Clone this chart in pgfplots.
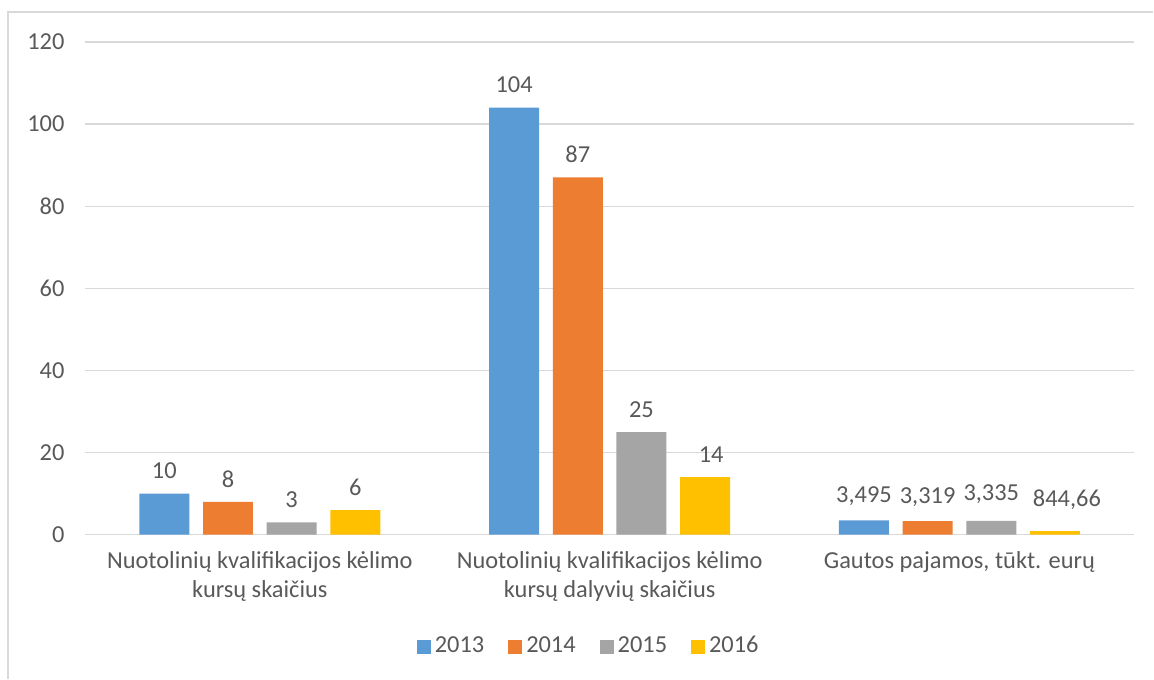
\documentclass[border=0pt]{standalone}
\usepackage{pgfplots}
\pgfplotsset{compat=1.18}
\usepackage{fontspec}
\setmainfont{Carlito}
\definecolor{c13}{HTML}{5B9BD5}
\definecolor{c14}{HTML}{ED7D31}
\definecolor{c15}{HTML}{A5A5A5}
\definecolor{c16}{HTML}{FFC000}
\definecolor{txt}{HTML}{595959}
\definecolor{grd}{HTML}{D9D9D9}
\newcommand{\lbl}{\fontsize{12.2pt}{14.5pt}\selectfont}
\begin{document}
\lbl
\begin{tikzpicture}
\begin{axis}[
    at={(0,0)}, anchor=south west,
    scale only axis,
    width=525pt, height=246.5pt,
    ybar=6.85pt,
    bar width=25pt,
    xmin=-0.5, xmax=2.5,
    ymin=0, ymax=120,
    ytick={0,20,...,120},
    xtick=data,
    xticklabels={{Nuotolinių kvalifikacijos kėlimo\\kursų skaičius},
                 {Nuotolinių kvalifikacijos kėlimo\\kursų dalyvių skaičius},
                 {Gautos pajamos, tūkt. eurų}},
    xticklabel style={align=center, text=txt, font=\lbl, yshift=-4pt},
    yticklabel style={text=txt, font=\lbl, xshift=-6pt},
    /pgf/number format/assume math mode=true,
    major tick length=0pt,
    ymajorgrids,
    grid style={grd, line width=0.6pt},
    axis x line*=bottom,
    axis y line*=left,
    y axis line style={draw=none},
    x axis line style={grd, line width=0.6pt, -},
    point meta=explicit symbolic,
    nodes near coords={\pgfplotspointmeta},
    nodes near coords style={text=txt, font=\lbl, yshift=3pt},
    legend style={at={(0.481,-0.227)}, anchor=center, draw=none,
        legend columns=4, font=\lbl, text=txt,
        /tikz/every even column/.append style={column sep=10pt}},
    legend image code/.code={\fill[#1] (0pt,-3.5pt) rectangle (7pt,3.5pt);},
]
\addplot[fill=c13, draw=none] coordinates {(0,10) [10] (1,104) [104] (2,3.495) [{3,495}]};
\addlegendentry{2013}
\addplot[fill=c14, draw=none] coordinates {(0,8) [8] (1,87) [87] (2,3.319) [{3,319}]};
\addlegendentry{2014}
\addplot[fill=c15, draw=none] coordinates {(0,3) [3] (1,25) [25] (2,3.335) [{\raisebox{3pt}{3,335}}]};
\addlegendentry{2015}
\addplot[fill=c16, draw=none] coordinates {(0,6) [6] (1,14) [{\hspace*{6pt}14}] (2,0.84466) [{\hspace*{12pt}\raisebox{5pt}{844,66}}]};
\addlegendentry{2016}
\end{axis}
\draw[grd, line width=0.7pt] (-38.5pt,-72pt) -- (-38.5pt,261.5pt) -- (534.5pt,261.5pt);
\path[use as bounding box] (-42.5pt,-72pt) rectangle (534.5pt,267.5pt);
\end{tikzpicture}
\end{document}
